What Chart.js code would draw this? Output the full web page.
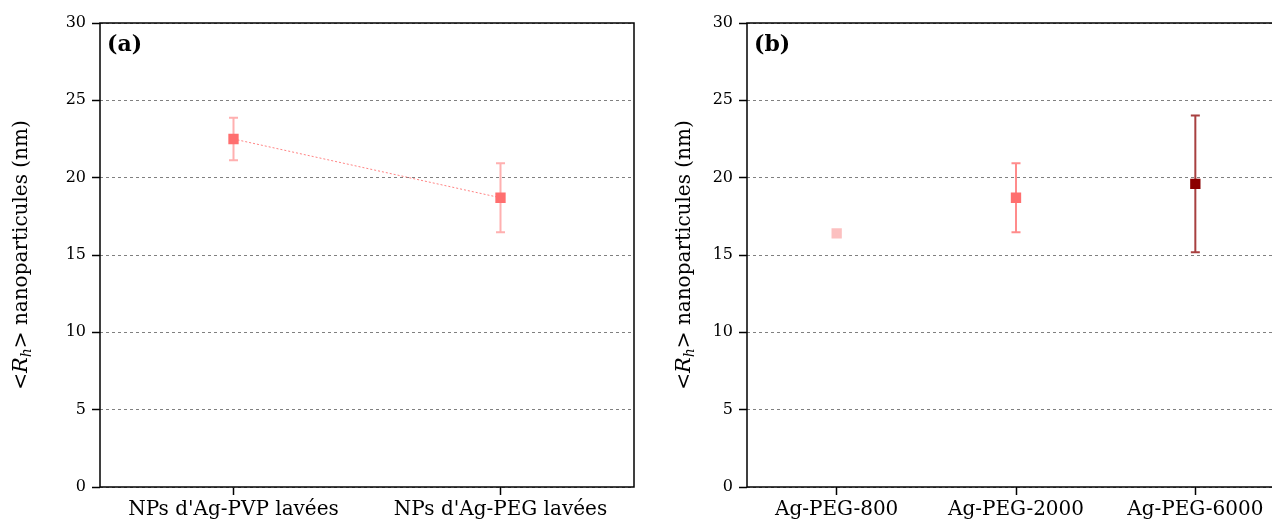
<!DOCTYPE html>
<html>
<head>
<meta charset="utf-8">
<script src="https://cdn.jsdelivr.net/npm/chart.js@4.4.1/dist/chart.umd.min.js"></script>
<style>
  html, body { margin: 0; padding: 0; background: #fff; overflow: hidden; }
  #wrap { position: relative; width: 1272px; height: 524px; overflow: hidden; }
  canvas { position: absolute; top: 0; }
  #chartA { left: 0; }
  #chartB { left: 650px; }
</style>
</head>
<body>
<div id="wrap">
  <canvas id="chartA" width="650" height="524"></canvas>
  <canvas id="chartB" width="650" height="524"></canvas>
</div>
<script>
// donnees panneau (a)
var labelsA = ["NPs d'Ag-PVP lavées", "NPs d'Ag-PEG lavées"];
var valuesA = [22.5, 18.7];
var errorsA = [1.37, 2.23];

// donnees panneau (b)
var labelsB = ["Ag-PEG-800", "Ag-PEG-2000", "Ag-PEG-6000"];
var valuesB = [16.4, 18.7, 19.6];
var errorsB = [0, 2.23, 4.42];

var yTicks = [0, 5, 10, 15, 20, 25, 30];

var colorsB = ["#fcc0c0", "#ff6f6f", "#8b0000"];
var errColorsB = ["rgba(252,192,192,0.7)", "rgba(255,111,111,0.8)", "rgba(139,0,0,0.75)"];

Chart.defaults.font.family = "'DejaVu Serif', serif";
Chart.defaults.color = "#000";

// barres d'erreur, dessinees avant les marqueurs
var errorBars = {
  id: "errorBars",
  beforeDatasetsDraw: function (chart, args, opts) {
    var ctx = chart.ctx;
    var x = chart.scales.x, y = chart.scales.y;
    opts.values.forEach(function (v, i) {
      var e = opts.errors[i];
      if (!e) return;
      var px = x.getPixelForValue(i);
      var top = y.getPixelForValue(v + e);
      var bot = y.getPixelForValue(v - e);
      ctx.save();
      ctx.strokeStyle = opts.colors[i];
      ctx.lineWidth = 2;
      ctx.beginPath();
      ctx.moveTo(px, top); ctx.lineTo(px, bot);
      ctx.moveTo(px - 4.5, top); ctx.lineTo(px + 4.5, top);
      ctx.moveTo(px - 4.5, bot); ctx.lineTo(px + 4.5, bot);
      ctx.stroke();
      ctx.restore();
    });
  }
};

// cadre, lettre du panneau et titre de l'axe y
var decor = {
  id: "decor",
  afterDraw: function (chart, args, opts) {
    var ctx = chart.ctx, a = chart.chartArea;
    ctx.save();
    ctx.strokeStyle = "#000";
    ctx.lineWidth = 1.5;
    ctx.strokeRect(a.left, a.top, a.right - a.left, a.bottom - a.top);

    ctx.font = "bold 22px 'DejaVu Serif', serif";
    ctx.fillStyle = "#000";
    ctx.textBaseline = "alphabetic";
    ctx.fillText(opts.letter, a.left + 7, a.top + 28);

    // <R_h> nanoparticules (nm)
    var parts = [
      { t: "<", f: "20px 'DejaVu Serif', serif", dy: 0 },
      { t: "R", f: "italic 21px 'DejaVu Serif', serif", dy: 0 },
      { t: "h", f: "italic 14px 'DejaVu Serif', serif", dy: 5 },
      { t: "> nanoparticules (nm)", f: "20px 'DejaVu Serif', serif", dy: 0 }
    ];
    var total = 0;
    parts.forEach(function (p) { ctx.font = p.f; p.w = ctx.measureText(p.t).width; total += p.w; });
    ctx.translate(opts.labelX, (a.top + a.bottom) / 2);
    ctx.rotate(-Math.PI / 2);
    ctx.textBaseline = "middle";
    var cx = -total / 2;
    parts.forEach(function (p) {
      ctx.font = p.f;
      ctx.fillText(p.t, cx, p.dy);
      cx += p.w;
    });
    ctx.restore();
  }
};

function makeOptions(yWidth, padRight, letter, labelX, vals, errs, errCols) {
  return {
    responsive: false,
    animation: false,
    events: [],
    layout: { padding: { top: 23, right: padRight, left: 0, bottom: 0 } },
    plugins: {
      legend: { display: false },
      tooltip: { enabled: false },
      errorBars: { values: vals, errors: errs, colors: errCols },
      decor: { letter: letter, labelX: labelX }
    },
    scales: {
      x: {
        type: "category",
        offset: true,
        grid: { display: true, drawOnChartArea: false, offset: false, drawTicks: true, tickLength: 8, tickColor: "#000", tickWidth: 1.5 },
        border: { display: false },
        ticks: { font: { size: 20 }, padding: 3, maxRotation: 0, autoSkip: false },
        afterFit: function (s) { s.height = 37; }
      },
      y: {
        min: 0,
        max: 30,
        afterBuildTicks: function (s) { s.ticks = yTicks.map(function (v) { return { value: v }; }); },
        grid: { color: "#808080", lineWidth: 1, tickLength: 8, tickColor: "#000", tickWidth: 1.5, tickBorderDash: [] },
        border: { display: false, dash: [3, 3] },
        ticks: { font: { size: 16 }, padding: 6 },
        afterFit: function (s) { s.width = yWidth; }
      }
    }
  };
}

new Chart(document.getElementById("chartA"), {
  type: "line",
  data: {
    labels: labelsA,
    datasets: [{
      data: valuesA,
      showLine: true,
      borderColor: "rgba(255,100,100,0.8)",
      borderWidth: 1,
      borderDash: [2, 2],
      pointStyle: "rect",
      pointRadius: 7.3,
      pointBorderWidth: 0,
      pointBackgroundColor: "#ff6f6f"
    }]
  },
  options: makeOptions(100, 16, "(a)", 22, valuesA, errorsA, ["rgba(255,111,111,0.55)", "rgba(255,111,111,0.55)"]),
  plugins: [errorBars, decor]
});

new Chart(document.getElementById("chartB"), {
  type: "line",
  data: {
    labels: labelsB,
    datasets: [{
      data: valuesB,
      showLine: false,
      pointStyle: "rect",
      pointRadius: 7.3,
      pointBorderWidth: 0,
      pointBackgroundColor: colorsB
    }]
  },
  options: makeOptions(97, 15, "(b)", 35, valuesB, errorsB, errColorsB),
  plugins: [errorBars, decor]
});
</script>
</body>
</html>
